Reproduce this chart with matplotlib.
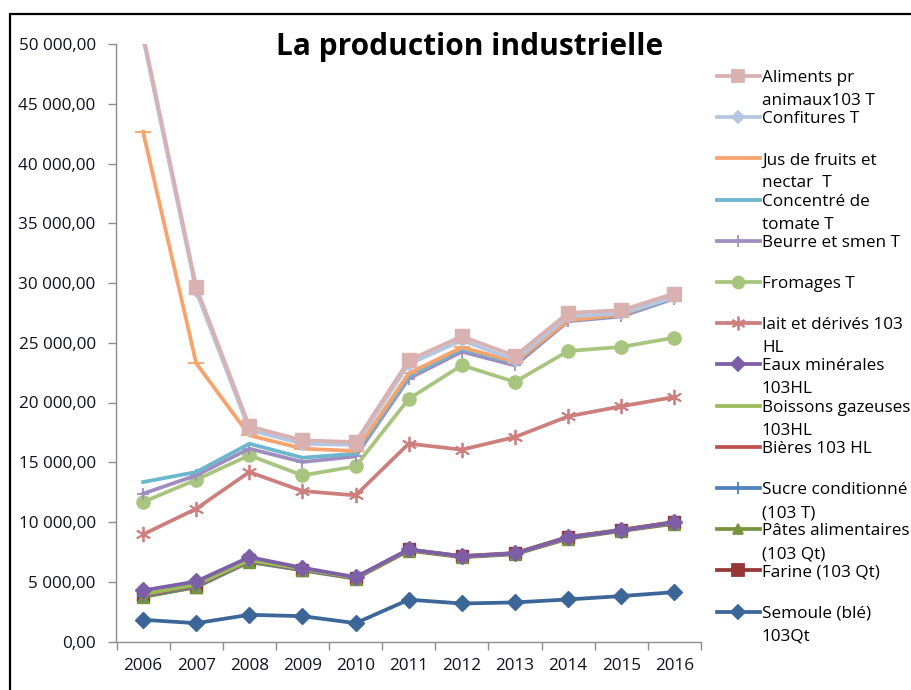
import matplotlib
matplotlib.use("Agg")
import matplotlib.pyplot as plt
from matplotlib.lines import Line2D
from matplotlib.patches import Rectangle
from matplotlib.ticker import FuncFormatter, MultipleLocator

plt.rcParams['font.family'] = ['Open Sans', 'DejaVu Sans']

years = ['2006', '2007', '2008', '2009', '2010', '2011', '2012', '2013', '2014', '2015', '2016']

# values as they sit on the chart (Excel stacked line), legend order
aliments = [50800, 29650, 18000, 16830, 16690, 23530, 25540, 23890, 27500, 27720, 29120]
confitures = [50500, 29300, 17700, 16550, 16450, 23200, 25200, 23550, 27200, 27450, 28800]
jus = [42650, 23280, 17250, 16140, 15940, 22440, 24620, 23400, 26880, 27350, 28900]
concentre = [13340, 14180, 16550, 15380, 15720, 22200, 24500, 23300, 26900, 27300, 28800]
beurre = [12370, 13900, 16140, 15020, 15490, 22000, 24250, 23100, 26800, 27200, 28700]
fromages = [11670, 13540, 15580, 13900, 14660, 20300, 23120, 21720, 24310, 24650, 25430]
lait = [8960, 11110, 14180, 12590, 12230, 16560, 16050, 17110, 18840, 19680, 20460]
eaux = [4270, 5025, 7060, 6170, 5385, 7700, 7120, 7370, 8710, 9300, 9970]
boissons = [3950, 4750, 6800, 6080, 5340, 7680, 7110, 7360, 8690, 9310, 9940]
bieres = [3880, 4700, 6750, 6050, 5320, 7650, 7100, 7350, 8680, 9300, 9920]
sucre = [3820, 4620, 6700, 6000, 5300, 7650, 7100, 7350, 8650, 9300, 9900]
pates = [3720, 4560, 6650, 5950, 5250, 7600, 7050, 7300, 8600, 9250, 9850]
farine = [3770, 4550, 6780, 6000, 5330, 7700, 7150, 7400, 8750, 9350, 10000]
semoule = [1815, 1535, 2235, 2120, 1535, 3500, 3180, 3270, 3520, 3800, 4130]

labels = ["Aliments pr\nanimaux103 T", "Confitures T", "Jus de fruits et\nnectar  T",
          "Concentré de\ntomate T", "Beurre et smen T", "Fromages T",
          "lait et dérivés 103\nHL", "Eaux minérales\n103HL", "Boissons gazeuses\n103HL",
          "Bières 103 HL", "Sucre conditionné\n(103 T)", "Pâtes alimentaires\n(103 Qt)",
          "Farine (103 Qt)", "Semoule (blé)\n103Qt"]
series = [aliments, confitures, jus, concentre, beurre, fromages, lait, eaux,
          boissons, bieres, sucre, pates, farine, semoule]

# colour, marker, marker size
styles = [
    ('#D9B1B0', 's', 9.5),
    ('#B4C6E0', 'D', 6.5),
    ('#F8A36C', '_', 11),
    ('#6CB6CE', None, 0),
    ('#9F8DC0', '+', 9),
    ('#A8C57F', 'o', 9.5),
    ('#CD7F7D', (6, 2, 0), 11),
    ('#7C5FA6', 'D', 8),
    ('#9BBB59', None, 0),
    ('#C0504D', None, 0),
    ('#4F81BD', '+', 9),
    ('#77933C', '^', 8),
    ('#953735', 's', 9),
    ('#3C6697', 'D', 8),
]

W, H = 912, 690
fig = plt.figure(figsize=(W / 100, H / 100), dpi=100)
ax = fig.add_axes([116.5 / W, 1 - 641.5 / H, (701 - 116.5) / W, (641.5 - 44) / H])

x = list(range(len(years)))
n = len(series)
# Excel draws the last legend entry first
for i in reversed(range(n)):
    col, mk, ms = styles[i]
    ax.plot(x, series[i], color=col, lw=2.7, marker=mk, ms=ms, mec=col, mfc=col,
            mew=1.3 if mk in ('+', '_', (6, 2, 0)) else 1, zorder=2 + (n - i) * 0.01,
            clip_on=True, solid_joinstyle='round')

ax.set_ylim(0, 50000)
ax.set_xlim(-0.5, len(years) - 0.5)
ax.yaxis.set_major_locator(MultipleLocator(5000))
ax.yaxis.set_major_formatter(FuncFormatter(lambda v, p: '{:,.2f}'.format(v).replace(',', ' ').replace('.', ',')))
ax.set_xticks([i - 0.5 for i in range(len(years) + 1)])
ax.set_xticklabels([])
ax.set_xticks(x, minor=True)
ax.set_xticklabels(years, minor=True)
ax.tick_params(axis='x', which='minor', length=0, pad=12, labelsize=12.3, labelcolor='#111122')
ax.tick_params(axis='x', which='major', length=6, color='#8C8C8C', width=1)
ax.tick_params(axis='y', length=6, color='#8C8C8C', width=1, pad=9, labelsize=12.3, labelcolor='#111122')
for s in ('top', 'right'):
    ax.spines[s].set_visible(False)
for s in ('left', 'bottom'):
    ax.spines[s].set_color('#8C8C8C')
    ax.spines[s].set_linewidth(1)

fig.text(470 / W, 1 - 47 / H, 'La production industrielle', ha='center', va='center',
         fontsize=21.5, fontweight='bold', color='black')

# legend on the right, one row every 41 px, wrapped lines 23 px apart
for i in range(n):
    col, mk, ms = styles[i]
    py = 76 + 41.2 * i
    yf = 1 - py / H
    fig.add_artist(Line2D([717 / W, 760 / W], [yf, yf], color=col, lw=2.7))
    if mk is not None:
        fig.add_artist(Line2D([738.5 / W], [yf], color=col, marker=mk, ms=ms * 0.9,
                              mec=col, mfc=col, mew=1.3))
    for k, line in enumerate(labels[i].split('\n')):
        fig.text(762 / W, 1 - (py + 6 + 23 * k) / H, line, ha='left', va='baseline',
                 fontsize=12.3, color='black')

fig.add_artist(Rectangle((10 / W, -0.2), 1.5, 1.2 - 14 / H, transform=fig.transFigure,
                         fill=False, ec='black', lw=1.6))

fig.savefig('out.png', dpi=100)
